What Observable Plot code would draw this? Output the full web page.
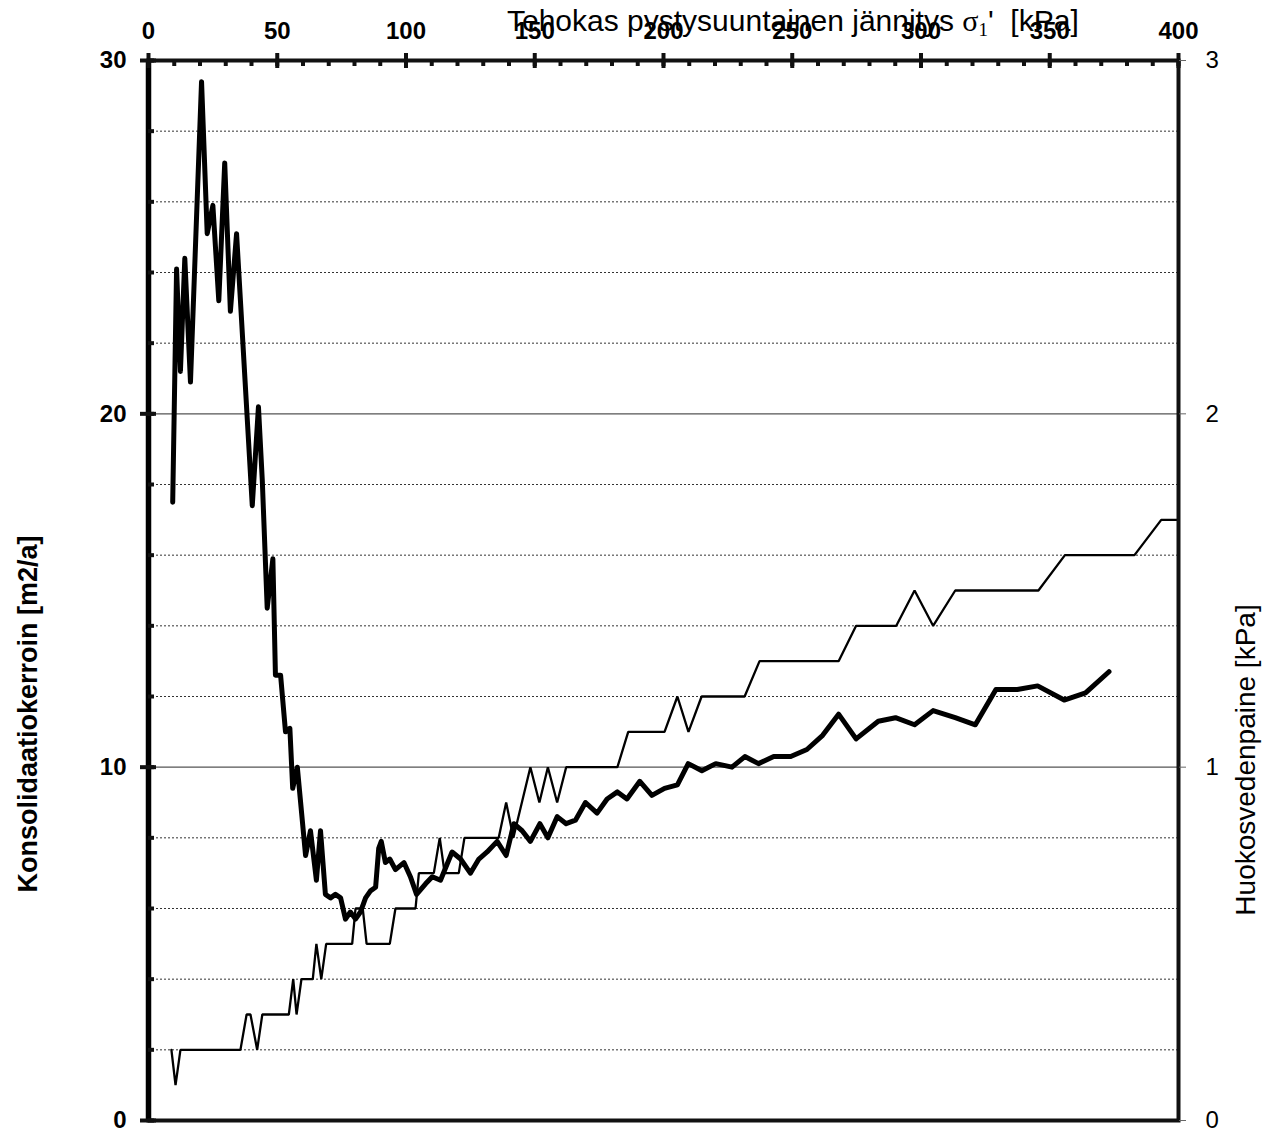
<!DOCTYPE html>
<html>
<head>
<meta charset="utf-8">
<script src="https://cdn.jsdelivr.net/npm/d3@7"></script>
<script src="https://cdn.jsdelivr.net/npm/@observablehq/plot@0.6"></script>
<style>
  body { margin: 0; background: #fff; }
  svg { display: block; }
</style>
</head>
<body>
<div id="chart"></div>
<script>
// Consolidation coefficient cv [m2/a] vs effective vertical stress [kPa]
const cvStress = [9.4, 10.9, 12.4, 14.1, 16.3, 20.6, 22.8, 25.0, 27.3, 29.6, 31.8, 34.2, 40.3, 42.7, 44.2, 46.1, 48.3, 49.3, 51.3, 53.2, 54.9, 56.0, 57.8, 61.0, 62.9, 65.2, 66.8, 68.7, 70.7, 72.6, 74.6, 76.5, 78.4, 80.4, 82.3, 84.3, 86.2, 88.2, 89.4, 90.4, 92.0, 93.7, 95.9, 99.2, 101.7, 104.1, 107.6, 110.2, 113.4, 117.9, 121.2, 125.0, 128.3, 131.5, 135.4, 138.9, 141.9, 145.1, 148.3, 152.0, 155.1, 158.7, 162.2, 165.8, 169.7, 174.2, 178.1, 182.1, 185.8, 190.8, 195.5, 200.4, 205.4, 209.6, 214.9, 220.3, 226.6, 231.6, 236.9, 242.8, 249.4, 255.7, 261.8, 268.0, 274.8, 283.4, 290.1, 297.5, 304.7, 313.3, 321.1, 329.1, 337.4, 345.3, 355.6, 363.9, 373.0];
const cvValue = [17.5, 24.1, 21.2, 24.4, 20.9, 29.4, 25.1, 25.9, 23.2, 27.1, 22.9, 25.1, 17.4, 20.2, 18.1, 14.5, 15.9, 12.6, 12.6, 11.0, 11.1, 9.4, 10.0, 7.5, 8.2, 6.8, 8.2, 6.4, 6.3, 6.4, 6.3, 5.7, 5.9, 5.7, 5.9, 6.3, 6.5, 6.6, 7.7, 7.9, 7.3, 7.4, 7.1, 7.3, 6.9, 6.4, 6.7, 6.9, 6.8, 7.6, 7.4, 7.0, 7.4, 7.6, 7.9, 7.5, 8.4, 8.2, 7.9, 8.4, 8.0, 8.6, 8.4, 8.5, 9.0, 8.7, 9.1, 9.3, 9.1, 9.6, 9.2, 9.4, 9.5, 10.1, 9.9, 10.1, 10.0, 10.3, 10.1, 10.3, 10.3, 10.5, 10.9, 11.5, 10.8, 11.3, 11.4, 11.2, 11.6, 11.4, 11.2, 12.2, 12.2, 12.3, 11.9, 12.1, 12.7];

// Pore water pressure [kPa] vs effective vertical stress [kPa]
const uStress = [8.9, 10.5, 12.4, 35.7, 38.1, 39.6, 42.2, 44.2, 54.5, 56.2, 57.5, 59.4, 63.8, 65.2, 67.1, 69.0, 79.1, 80.4, 83.2, 84.7, 93.7, 95.9, 103.7, 105.0, 110.8, 113.1, 115.0, 120.5, 122.7, 136.0, 138.9, 141.7, 148.3, 151.8, 155.1, 158.7, 162.2, 182.1, 186.3, 200.4, 205.4, 209.7, 214.8, 231.5, 237.3, 268.0, 274.8, 290.4, 297.5, 304.7, 313.3, 345.6, 355.9, 382.9, 393.3, 400];
const uValue = [0.2, 0.1, 0.2, 0.2, 0.3, 0.3, 0.2, 0.3, 0.3, 0.4, 0.3, 0.4, 0.4, 0.5, 0.4, 0.5, 0.5, 0.6, 0.6, 0.5, 0.5, 0.6, 0.6, 0.7, 0.7, 0.8, 0.7, 0.7, 0.8, 0.8, 0.9, 0.8, 1.0, 0.9, 1.0, 0.9, 1.0, 1.0, 1.1, 1.1, 1.2, 1.1, 1.2, 1.2, 1.3, 1.3, 1.4, 1.4, 1.5, 1.4, 1.5, 1.5, 1.6, 1.6, 1.7, 1.7];

const xTicks = [0, 50, 100, 150, 200, 250, 300, 350, 400];
const xMinorTicks = d3.range(0, 401, 10);
const yTicks = [0, 10, 20, 30];
const yMinorTicks = d3.range(0, 31, 2);
const yDottedGrid = [2, 4, 6, 8, 12, 14, 16, 18, 22, 24, 26, 28];
const ySolidGrid = [10, 20];
const rightTickLabels = ["0", "1", "2", "3"];
const rightScaleFactor = 10; // right axis 0..3 kPa maps onto left 0..30

const xTitle = "Tehokas pystysuuntainen jännitys ";
const yTitle = "Konsolidaatiokerroin [m2/a]";
const y2Title = "Huokosvedenpaine [kPa]";

const cvData = cvStress.map((s, i) => ({s, v: cvValue[i]}));
const uData = uStress.map((s, i) => ({s, v: uValue[i] * rightScaleFactor}));

const W = 1269, H = 1133;
const mL = 148, mR = 91, mT = 60, mB = 13;
const innerW = W - mL - mR, innerH = H - mT - mB;
const font = "'Liberation Sans', Arial, sans-serif";
const serif = "'Liberation Serif', 'Times New Roman', serif";

const svg = Plot.plot({
  width: W,
  height: H,
  marginLeft: mL,
  marginRight: mR,
  marginTop: mT,
  marginBottom: mB,
  style: {fontFamily: font, background: "#fff", color: "#000"},
  x: {domain: [0, 400]},
  y: {domain: [0, 30]},
  marks: [
    Plot.ruleY(yDottedGrid, {stroke: "#333", strokeWidth: 1, strokeDasharray: "2,2"}),
    Plot.ruleY(ySolidGrid, {stroke: "#555", strokeWidth: 1.3}),
    Plot.line(uData, {x: "s", y: "v", stroke: "#000", strokeWidth: 2.3, strokeLinejoin: "miter"}),
    Plot.line(cvData, {x: "s", y: "v", stroke: "#000", strokeWidth: 5, strokeLinejoin: "round", strokeLinecap: "round"}),
    Plot.frame({stroke: "#111", strokeWidth: 4}),
    Plot.ruleX([0], {stroke: "#000", strokeWidth: 5.5}),
    // top axis ticks
    Plot.tickX(xMinorTicks, {x: d => d, stroke: "#111", strokeWidth: 4, insetTop: 0, insetBottom: innerH - 6}),
    Plot.tickX(xTicks, {x: d => d, stroke: "#111", strokeWidth: 4, insetTop: -7, insetBottom: innerH - 8}),
    Plot.axisX(xTicks, {anchor: "top", tickSize: 0, tickPadding: 22, fontSize: 24, fontWeight: "bold", label: null}),
    // left axis ticks
    Plot.tickY(yMinorTicks, {y: d => d, stroke: "#111", strokeWidth: 4, insetLeft: 0, insetRight: innerW - 6}),
    Plot.tickY(yTicks, {y: d => d, stroke: "#111", strokeWidth: 4, insetLeft: -8, insetRight: innerW - 8}),
    Plot.axisY(yTicks, {anchor: "left", tickSize: 0, tickPadding: 22, fontSize: 24, fontWeight: "bold", label: null}),
    // right axis
    Plot.axisY(yTicks, {anchor: "right", tickSize: 7, tickPadding: 20, stroke: "#666",
      tickFormat: d => rightTickLabels[yTicks.indexOf(d)], fontSize: 24, fontWeight: "normal", label: null})
  ]
});

document.getElementById("chart").appendChild(svg);

const s = d3.select(svg);
// top title
const t = s.append("text")
  .attr("x", 507).attr("y", 31)
  .attr("text-anchor", "start")
  .attr("font-family", font).attr("font-size", 30).attr("fill", "#000");
t.append("tspan").text(xTitle);
t.append("tspan").attr("font-family", serif).text("σ");
t.append("tspan").attr("font-family", serif).attr("font-size", 19).attr("dy", 5).text("1");
t.append("tspan").attr("dy", -5).text("'  [kPa]");

// left title
s.append("text")
  .attr("transform", "translate(37,714) rotate(-90)")
  .attr("text-anchor", "middle")
  .attr("font-family", font).attr("font-size", 27).attr("font-weight", "bold")
  .text(yTitle);

// right title
s.append("text")
  .attr("transform", "translate(1255,760) rotate(-90)")
  .attr("text-anchor", "middle")
  .attr("font-family", font).attr("font-size", 28)
  .text(y2Title);
</script>
</body>
</html>
